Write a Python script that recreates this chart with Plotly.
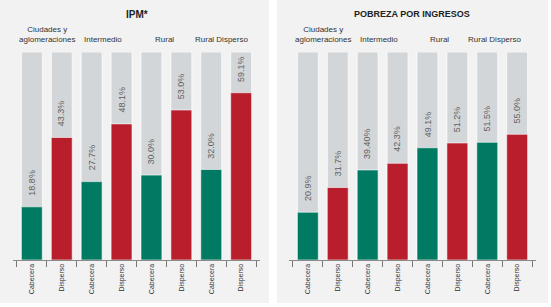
import plotly.graph_objects as go

W, H = 551, 307

groups = ["Ciudades y<br>aglomeraciones", "Intermedio", "Rural", "Rural Disperso"]
subcats = ["Cabecera", "Disperso"]

ipm_cabecera = [18.8, 27.7, 30.0, 32.0]
ipm_disperso = [43.3, 48.1, 53.0, 59.1]
ipm_labels = ["18.8%", "43.3%", "27.7%", "48.1%", "30.0%", "53.0%", "32.0%", "59.1%"]

ing_cabecera = [20.9, 39.40, 49.1, 51.5]
ing_disperso = [31.7, 42.3, 51.2, 55.0]
ing_labels = ["20.9%", "31.7%", "39.40%", "42.3%", "49.1%", "51.2%", "51.5%", "55.0%"]

titles = ["IPM*", "POBREZA POR INGRESOS"]
panel_max = [73.5, 91.0]

GREEN = "#007a63"
RED = "#b81e2b"
GRAY_BAR = "#d2d6d9"
PANEL_BG = "#f2f2f2"
FONT = "Liberation Sans, Arial, sans-serif"

fig = go.Figure()

def interleave(a, b):
    out = []
    for u, v in zip(a, b):
        out += [u, v]
    return out

panels = [
    (interleave(ipm_cabecera, ipm_disperso), ipm_labels),
    (interleave(ing_cabecera, ing_disperso), ing_labels),
]

xs = list(range(8))
sub_text = subcats * 4
colors = [GREEN, RED] * 4

for i, (vals, labels) in enumerate(panels):
    xa = "x" if i == 0 else "x2"
    ya = "y" if i == 0 else "y2"
    fig.add_trace(go.Bar(
        x=xs, y=[panel_max[i]] * 8, xaxis=xa, yaxis=ya,
        marker=dict(color=GRAY_BAR, line=dict(color="rgba(255,255,255,0.7)", width=1)),
        hoverinfo="skip", showlegend=False,
    ))
    fig.add_trace(go.Bar(
        x=xs, y=vals, xaxis=xa, yaxis=ya,
        marker=dict(color=colors, line=dict(color="rgba(255,255,255,0.6)", width=1)),
        showlegend=False,
    ))
    for x, v, t in zip(xs, vals, labels):
        fig.add_annotation(
            x=x, y=v, xref=xa, yref=ya, text=t, showarrow=False,
            textangle=-90, yanchor="bottom", xanchor="center", yshift=9,
            font=dict(family=FONT, size=9, color="#5f5f5f"),
        )

# panel backgrounds
fig.add_shape(type="rect", xref="paper", yref="paper", x0=0, x1=269 / W,
              y0=(H - 303) / H, y1=1, fillcolor=PANEL_BG, line_width=0, layer="below")
fig.add_shape(type="rect", xref="paper", yref="paper", x0=277 / W, x1=548 / W,
              y0=(H - 303) / H, y1=1, fillcolor=PANEL_BG, line_width=0, layer="below")

# titles
fig.add_annotation(x=137 / W, y=(H - 14) / H, xref="paper", yref="paper", text="<b>IPM*</b>",
                   showarrow=False, yanchor="middle", xanchor="center",
                   font=dict(family=FONT, size=10, color="#222"))
fig.add_annotation(x=412 / W, y=(H - 14) / H, xref="paper", yref="paper",
                   text="<b>POBREZA POR INGRESOS</b>", showarrow=False, yanchor="middle",
                   xanchor="center",
                   font=dict(family=FONT, size=9, color="#222"))

# group labels
shifts = [[0, -4, -2, -5], [0, -4, -3, -8]]
for i in range(2):
    xa = "x" if i == 0 else "x2"
    for g, name in enumerate(groups):
        fig.add_annotation(
            x=2 * g + 0.5, xref=xa, y=(H - 46) / H, yref="paper", text=name,
            showarrow=False, yanchor="bottom", xanchor="center", xshift=shifts[i][g],
            font=dict(family=FONT, size=8, color="#333"),
        )

xcommon = dict(
    range=[-0.63, 7.63], tickmode="array", tickvals=xs, ticktext=sub_text,
    tickangle=-90, ticks="", showgrid=False, zeroline=False,
    showline=True, linecolor="#8a8a8a", linewidth=1, automargin=False,
    tickfont=dict(family=FONT, size=7, color="#333"),
    minor=dict(tickmode="linear", tick0=-0.5, dtick=1, ticks="outside",
               ticklen=6, tickcolor="#777", tickwidth=1, showgrid=False),
    fixedrange=True,
)
ydom = [(H - 260) / H, (H - 52) / H]

fig.update_layout(
    width=W, height=H, margin=dict(l=0, r=0, t=0, b=0, autoexpand=False),
    paper_bgcolor="white", plot_bgcolor="rgba(0,0,0,0)",
    barmode="overlay", bargap=0.3,
    xaxis=dict(domain=[13 / W, 260 / W], anchor="y", **xcommon),
    xaxis2=dict(domain=[289 / W, 536 / W], anchor="y2", **xcommon),
    yaxis=dict(domain=ydom, range=[0, panel_max[0]], visible=False, anchor="x"),
    yaxis2=dict(domain=ydom, range=[0, panel_max[1]], visible=False, anchor="x2"),
    showlegend=False,
)

fig.write_html("out.html", config={"displayModeBar": False},
               post_script="document.body.style.margin='0';document.body.style.overflow='hidden';")
